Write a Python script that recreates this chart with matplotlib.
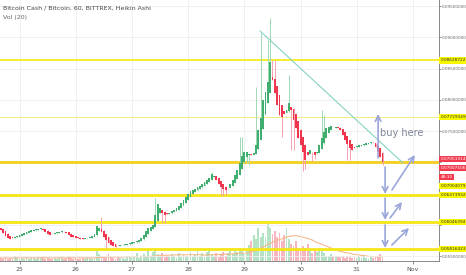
import numpy as np
import pandas as pd
import matplotlib.pyplot as plt
import matplotlib.transforms as mtransforms

# hourly Heikin Ashi candles, x = hours since Oct 25 00:00
hours = np.arange(-8, 156)
# HA close in 1e-5 BTC
close_e5 = [5916, 5868, 5820, 5788, 5772, 5788, 5804, 5820,
            5836, 5852, 5868, 5884, 5900, 5916, 5916, 5932,
            5932, 5948, 5916, 5884, 5852, 5836, 5852, 5868,
            5884, 5884, 5900, 5884, 5868, 5836, 5804, 5804,
            5788, 5788, 5772, 5772, 5788, 5788, 5804, 5820,
            5852, 5980, 5948, 5884, 5804, 5756, 5708, 5676,
            5660, 5644, 5660, 5676, 5676, 5692, 5692, 5708,
            5724, 5724, 5740, 5756, 5788, 5836, 5900, 5948,
            5964, 5996, 6156, 6332, 6268, 6188, 6156, 6172,
            6188, 6220, 6236, 6268, 6300, 6348, 6396, 6444,
            6492, 6540, 6556, 6572, 6604, 6620, 6652, 6684,
            6716, 6748, 6812, 6780, 6716, 6652, 6604, 6572,
            6556, 6588, 6652, 6716, 6796, 6876, 6988, 7100,
            7164, 7164, 7132, 7116, 7148, 7276, 7516, 7708,
            7996, 8124, 8284, 8604, 8316, 8108, 7916, 7756,
            7724, 7772, 7836, 7948, 7836, 7676, 7548, 7388,
            7276, 7164, 7036, 7116, 7196, 7164, 7116, 7164,
            7276, 7388, 7484, 7548, 7564, 7580, 7548, 7564,
            7548, 7516, 7436, 7356, 7292, 7228, 7196, 7228,
            7260, 7276, 7276, 7292, 7308, 7308, 7324, 7308,
            7244, 7164, 7084, 7004]
first_open_e5 = 5948
# long wicks (hour: price e-5)
high_spikes = {35: 6124, 58: 6428, 82: 6844, 94: 7404, 95: 7404, 101: 8204,
               103: 9068, 106: 8956, 107: 9308, 108: 8636, 109: 8636,
               115: 8396, 129: 7836, 130: 7756}
low_spikes = {37: 5628, 61: 6028, 62: 6028, 86: 6476, 87: 6460, 88: 6476,
              97: 6988, 98: 6956, 112: 7404, 116: 7196, 117: 7196, 121: 6860,
              122: 6892, 125: 7020, 126: 7052, 140: 7036, 141: 7036, 155: 6956}
vol = [3, 2, 4, 2, 3, 2, 5, 3,
       2, 3, 2, 4, 2, 3, 3, 2,
       4, 3, 5, 2, 3, 2, 2, 3,
       2, 3, 4, 2, 3, 5, 3, 2,
       3, 2, 2, 3, 2, 4, 3, 2,
       3, 9, 6, 5, 4, 3, 6, 4,
       3, 2, 4, 3, 3, 2, 4, 5,
       3, 4, 7, 3, 5, 6, 4, 10,
       4, 8, 12, 6, 5, 7, 4, 5,
       4, 6, 5, 3, 7, 4, 6, 5,
       5, 8, 4, 6, 9, 5, 7, 4,
       8, 10, 6, 5, 7, 4, 6, 8,
       5, 7, 9, 6, 10, 8, 12, 9,
       7, 10, 15, 18, 24, 20, 30, 22,
       26, 22, 34, 30, 25, 28, 22, 26,
       18, 24, 30, 20, 16, 14, 18, 12,
       10, 14, 12, 16, 9, 7, 10, 8,
       12, 9, 7, 5, 5, 6, 4, 5,
       5, 4, 5, 3, 5, 4, 3, 4,
       3, 4, 3, 5, 3, 2, 4, 3,
       5, 4, 6, 3]

day_ticks = [0, 24, 48, 72, 96, 120, 144, 168]
day_labels = ['25', '26', '27', '28', '29', '30', '31', 'Nov']
price_ticks = [0.055, 0.060, 0.065, 0.070, 0.075, 0.080, 0.085, 0.090, 0.095]
shown_ticks = [0.055, 0.075, 0.080, 0.085, 0.090, 0.095]

levels = [0.08628722, 0.07729349, 0.07004079, 0.06473932, 0.06046394, 0.0561]
level_text = ['0.08628722', '0.07729349', '0.07004079', '0.06473932', '0.06046394', '0.05816423']
level_label_y = [0.08628722, 0.07729349, 0.0662, 0.06473932, 0.06046394, 0.0561]
level_lw = [1.3, 0.7, 2.0, 2.0, 2.0, 2.0]
level_col = ['#f5ec1a', '#f2ec80', '#f5cf1f', '#f5e617', '#f5e617', '#f5e617']
red_text = ['0.07051914', '0.07007506', '48:10']
red_label_y = [0.07052, 0.06908, 0.06764]

trend = ([102.7, 163.7], [0.0910, 0.06988])
arrows = [((153.1, 0.07068), (153.1, 0.07772)),
          ((156.1, 0.06924), (156.1, 0.06492)),
          ((156.1, 0.06428), (156.1, 0.06076)),
          ((156.1, 0.05996), (156.1, 0.05628)),
          ((159.0, 0.06556), (168.8, 0.07116)),
          ((158.2, 0.06108), (163.3, 0.06364)),
          ((159.0, 0.05676), (166.3, 0.05948))]

close = np.array(close_e5) / 1e5
opn = np.empty_like(close)
opn[0] = first_open_e5 / 1e5
for i in range(1, len(close)):
    opn[i] = (opn[i - 1] + close[i - 1]) / 2
up = close >= opn
hi = np.maximum(opn, close) + 0.00004
lo = np.minimum(opn, close) - 0.00004
for k, v in high_spikes.items():
    hi[k + 8] = v / 1e5
for k, v in low_spikes.items():
    lo[k + 8] = v / 1e5

green = '#3fae6e'
red = '#f0364f'

fig = plt.figure(figsize=(4.66, 2.75), dpi=100)
ax = fig.add_axes([0, 14 / 275, 439 / 466, 261 / 275])
axv = ax.twinx()
ax.set_zorder(axv.get_zorder() + 1)
ax.patch.set_visible(False)

# volume
vcol = np.where(up, '#b3e2c4', '#f7b5bd')
axv.bar(hours, vol, width=0.8, color=vcol, zorder=1)
ma = pd.Series(vol).rolling(20, min_periods=1).mean()
axv.plot(hours, ma, color='#f5b98e', lw=0.8)
axv.set_ylim(0, 240)
axv.axis('off')

# grid
for t in day_ticks:
    ax.axvline(t, color='#eeeeee', lw=0.6, zorder=0)
for p in price_ticks:
    ax.axhline(p, color='#eeeeee', lw=0.6, zorder=0)

# levels
for v, lw, c in zip(levels, level_lw, level_col):
    ax.axhline(v, color=c, lw=lw, zorder=2)

# candles
wcol = np.where(up, '#9fd8b5', '#f7a3ae')
ax.vlines(hours, lo, hi, color=wcol, lw=0.7, zorder=3)
ax.bar(hours, np.maximum(np.abs(close - opn), 0.00003), bottom=np.minimum(opn, close),
       width=0.8, color=np.where(up, green, red), zorder=4)

ax.plot(trend[0], trend[1], color='#86d3c3', lw=0.8, zorder=5)
for s, e in arrows:
    ax.annotate('', xy=e, xytext=s, zorder=6,
                arrowprops=dict(arrowstyle='->', color='#9aa5da', lw=1.2,
                                shrinkA=0, shrinkB=0))
ax.text(153.9, 0.07468, 'buy here', fontsize=7, color='#7d8799', va='center', zorder=6)

ax.set_xlim(-8.33, 179.1)
ax.set_ylim(0.0542, 0.09596)
ax.set_xticks(day_ticks)
ax.set_xticklabels(day_labels)
ax.set_yticks(price_ticks)
ax.set_yticklabels(['%.8f' % p if p in shown_ticks else '' for p in price_ticks])
ax.yaxis.tick_right()
ax.tick_params(axis='y', labelsize=3.0, colors='#666666', length=1.2, width=0.5, pad=0.6)
ax.tick_params(axis='x', labelsize=4.5, colors='#555555', length=2, width=0.5, pad=2)
for s in ['top', 'left']:
    ax.spines[s].set_visible(False)
for s in ['right', 'bottom']:
    ax.spines[s].set_color('#888888')
    ax.spines[s].set_linewidth(0.7)

tr = mtransforms.blended_transform_factory(ax.transAxes, ax.transData)
for t, y in zip(level_text, level_label_y):
    ax.text(1.003, y, t, transform=tr, fontsize=3.1, color='#333333', va='center',
            clip_on=False, zorder=10,
            bbox=dict(boxstyle='square,pad=0.25', fc='#f7f700', ec='none'))
for t, y in zip(red_text, red_label_y):
    ax.text(1.003, y, t, transform=tr, fontsize=3.1, color='white', va='center',
            clip_on=False, zorder=10,
            bbox=dict(boxstyle='square,pad=0.25', fc='#f23b4f', ec='none'))

fig.text(3 / 466, 1 - 8 / 275, 'Bitcoin Cash / Bitcoin, 60, BITTREX, Heikin Ashi',
         fontsize=4.5, color='#444444', va='center')
fig.text(3 / 466, 1 - 17 / 275, 'Vol (20)', fontsize=4.5, color='#666666', va='center')

fig.savefig('out.png', dpi=100)
